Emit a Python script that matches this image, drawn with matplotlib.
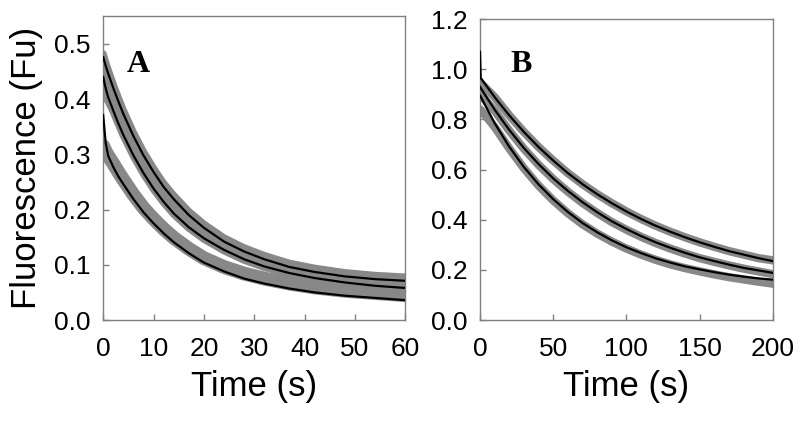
import matplotlib
matplotlib.use("Agg")
import matplotlib.pyplot as plt

plt.rcParams['font.family'] = ['Liberation Sans', 'DejaVu Sans']

# ---------------- Panel A data ----------------
tA = [0, 0.5, 1, 2, 3, 4, 6, 8, 10, 12, 14, 17, 20, 24, 28, 32, 37, 42, 48, 54, 60]
A_fit_top = [0.476, 0.460, 0.446, 0.420, 0.396, 0.373, 0.333, 0.298, 0.268, 0.241, 0.219,
             0.190, 0.167, 0.142, 0.124, 0.110, 0.096, 0.087, 0.079, 0.074, 0.071]
A_fit_mid = [0.440, 0.419, 0.403, 0.379, 0.356, 0.335, 0.298, 0.266, 0.238, 0.214, 0.193,
             0.168, 0.148, 0.127, 0.110, 0.097, 0.085, 0.076, 0.068, 0.062, 0.058]
A_fit_bot = [0.371, 0.320, 0.297, 0.277, 0.260, 0.246, 0.219, 0.195, 0.175, 0.157, 0.141,
             0.121, 0.104, 0.088, 0.075, 0.066, 0.057, 0.050, 0.044, 0.040, 0.036]
# grey measured traces
A_dat_top = [0.482, 0.467, 0.453, 0.427, 0.403, 0.380, 0.340, 0.305, 0.275, 0.248, 0.226,
             0.197, 0.174, 0.149, 0.131, 0.117, 0.103, 0.094, 0.086, 0.081, 0.078]
A_dat_mid = [0.410, 0.402, 0.395, 0.376, 0.354, 0.333, 0.296, 0.264, 0.236, 0.212, 0.191,
             0.166, 0.146, 0.125, 0.108, 0.095, 0.083, 0.074, 0.066, 0.060, 0.056]
A_dat_bot = [0.315, 0.305, 0.297, 0.283, 0.268, 0.254, 0.227, 0.203, 0.183, 0.165, 0.149,
             0.129, 0.112, 0.096, 0.084, 0.075, 0.066, 0.059, 0.053, 0.049, 0.045]

# ---------------- Panel B data ----------------
tB = [0, 0.5, 10, 20, 30, 40, 50, 60, 70, 80, 90, 100, 110, 120, 130, 140, 150, 160, 170, 180, 190, 200]
B_fit_top = [1.070, 0.965, 0.889, 0.816, 0.750, 0.690, 0.636, 0.586, 0.542, 0.502, 0.466,
             0.433, 0.403, 0.376, 0.352, 0.330, 0.310, 0.292, 0.275, 0.261, 0.247, 0.235]
B_fit_mid = [0.930, 0.925, 0.839, 0.758, 0.686, 0.622, 0.565, 0.515, 0.470, 0.430, 0.394,
             0.363, 0.335, 0.310, 0.288, 0.268, 0.250, 0.235, 0.221, 0.208, 0.198, 0.188]
B_fit_bot = [0.895, 0.890, 0.785, 0.691, 0.610, 0.541, 0.482, 0.431, 0.387, 0.350, 0.318,
             0.290, 0.267, 0.246, 0.229, 0.214, 0.202, 0.191, 0.181, 0.173, 0.166, 0.161]
B_dat_top = [0.950, 0.945, 0.889, 0.816, 0.750, 0.690, 0.636, 0.586, 0.542, 0.502, 0.466,
             0.433, 0.403, 0.376, 0.352, 0.330, 0.310, 0.292, 0.275, 0.261, 0.247, 0.238]
B_dat_mid = [0.900, 0.898, 0.835, 0.755, 0.683, 0.619, 0.562, 0.512, 0.467, 0.427, 0.391,
             0.360, 0.332, 0.307, 0.285, 0.265, 0.247, 0.232, 0.218, 0.205, 0.194, 0.183]
B_dat_bot = [0.840, 0.838, 0.770, 0.684, 0.605, 0.536, 0.477, 0.426, 0.382, 0.345, 0.313,
             0.285, 0.261, 0.240, 0.222, 0.207, 0.194, 0.182, 0.171, 0.162, 0.153, 0.145]

A_xticks = [0, 10, 20, 30, 40, 50, 60]
A_yticks = [0.0, 0.1, 0.2, 0.3, 0.4, 0.5]
B_xticks = [0, 50, 100, 150, 200]
B_yticks = [0.0, 0.2, 0.4, 0.6, 0.8, 1.0, 1.2]

GRAY = '#888888'
SPINE = '#808080'

fig = plt.figure(figsize=(8, 4.25), dpi=100)
axA = fig.add_axes([0.129, 0.247, 0.3775, 0.715])
axB = fig.add_axes([0.600, 0.247, 0.366, 0.708])


def style(ax, xticks, yticks, xlim, ylim, yfmt):
    ax.set_xlim(*xlim)
    ax.set_ylim(*ylim)
    ax.set_xticks(xticks)
    ax.set_yticks(yticks)
    ax.set_yticklabels([yfmt.format(v) for v in yticks])
    ax.set_xticklabels([str(v) for v in xticks])
    for s in ax.spines.values():
        s.set_color(SPINE)
        s.set_linewidth(1.0)
    ax.tick_params(axis='both', direction='in', length=4, width=1, color=SPINE,
                   labelsize=19, labelcolor='black')
    ax.tick_params(axis='x', pad=12)
    ax.tick_params(axis='y', pad=9)
    ax.set_xlabel('Time (s)', fontsize=25, labelpad=7)


kw = dict(color=GRAY, solid_capstyle='round', solid_joinstyle='round', zorder=2)
axA.fill_between(tA, A_dat_mid, A_dat_top, color=GRAY, lw=0, zorder=2)
axA.plot(tA, A_dat_top, lw=5, **kw)
axA.plot(tA, A_dat_mid, lw=5, **kw)
axA.plot(tA, A_dat_bot, lw=10, **kw)
for yfit in (A_fit_top, A_fit_mid, A_fit_bot):
    axA.plot(tA, yfit, color='black', lw=1.6, zorder=3)
style(axA, A_xticks, A_yticks, (0, 60), (0, 0.55), '{:.1f}')
axA.set_ylabel('Fluorescence (Fu)', fontsize=25, labelpad=8)
axA.text(4.6, 0.449, 'A', fontsize=23, fontweight='bold', family='Liberation Serif',
         ha='left', va='baseline')

for ydat in (B_dat_top, B_dat_mid, B_dat_bot):
    axB.plot(tB, ydat, lw=6, **kw)
for yfit in (B_fit_top, B_fit_mid, B_fit_bot):
    axB.plot(tB, yfit, color='black', lw=1.6, zorder=3)
style(axB, B_xticks, B_yticks, (0, 200), (0, 1.2), '{:.1f}')
axB.text(20.5, 0.989, 'B', fontsize=23, fontweight='bold', family='Liberation Serif',
         ha='left', va='baseline')

fig.savefig('out.png', dpi=100)
